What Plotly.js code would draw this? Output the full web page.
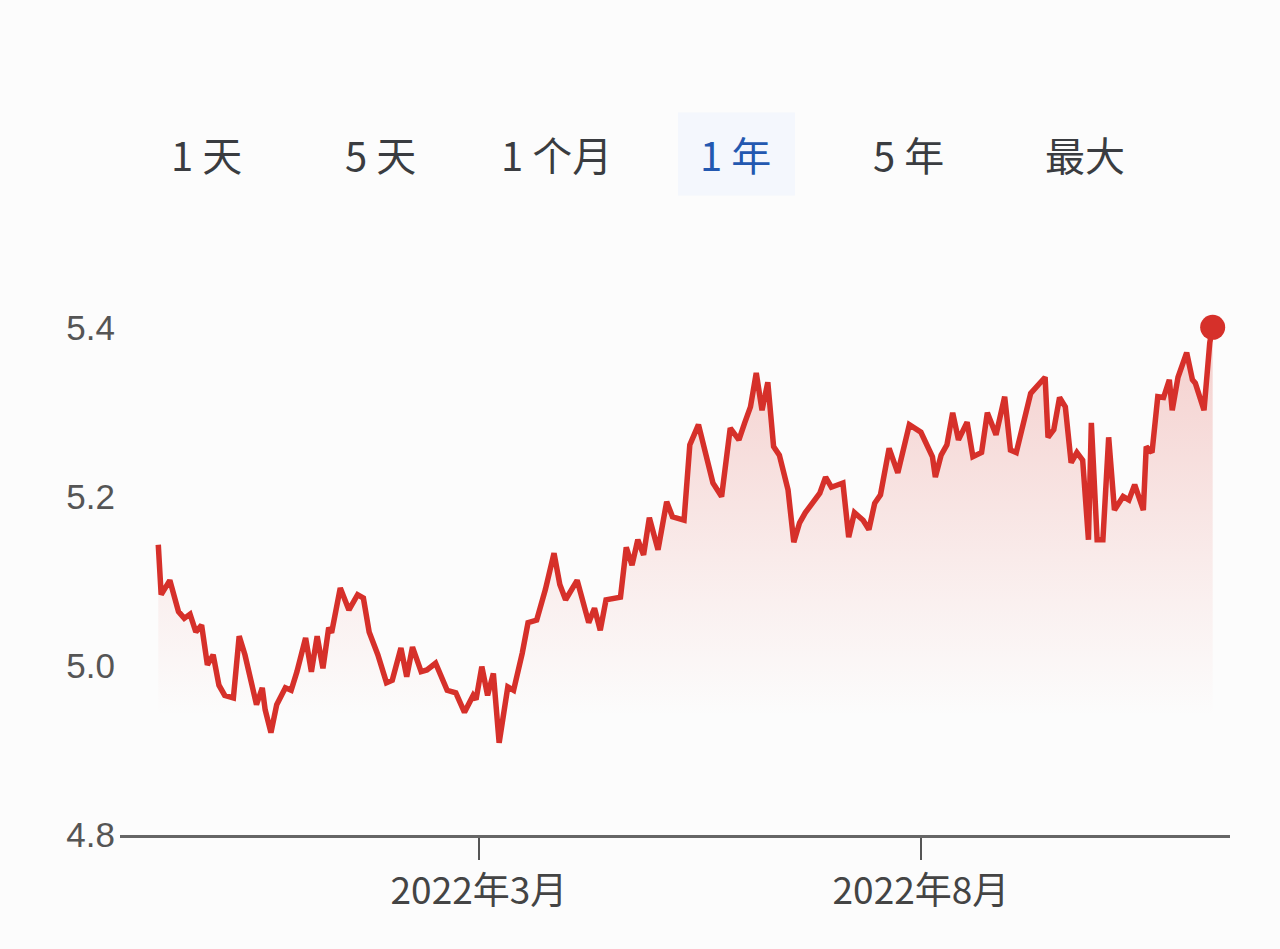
<!DOCTYPE html>
<html>
<head>
<meta charset="utf-8">
<script src="https://cdn.plot.ly/plotly-3.0.1.min.js"></script>
<style>
  html, body { margin: 0; padding: 0; background: #fcfcfc; }
  #chart { width: 1280px; height: 949px; }
</style>
</head>
<body>
<div id="chart"></div>
<script>
const dates = ['2021-11-10','2021-11-11','2021-11-14','2021-11-17','2021-11-19','2021-11-21','2021-11-23','2021-11-25','2021-11-27','2021-11-29',
'2021-12-01','2021-12-03','2021-12-06','2021-12-08','2021-12-10','2021-12-12','2021-12-14','2021-12-16','2021-12-17','2021-12-19','2021-12-21','2021-12-24','2021-12-26','2021-12-28','2021-12-31',
'2022-01-02','2022-01-04','2022-01-06','2022-01-08','2022-01-09','2022-01-12','2022-01-15','2022-01-18','2022-01-20','2022-01-22','2022-01-25','2022-01-28','2022-01-30',
'2022-02-02','2022-02-04','2022-02-06','2022-02-09','2022-02-11','2022-02-14','2022-02-18','2022-02-21','2022-02-24','2022-02-27','2022-02-28',
'2022-03-02','2022-03-04','2022-03-06','2022-03-08','2022-03-11','2022-03-13','2022-03-16','2022-03-18','2022-03-21','2022-03-24','2022-03-27','2022-03-29','2022-03-31',
'2022-04-02','2022-04-04','2022-04-08','2022-04-10','2022-04-12','2022-04-14','2022-04-19','2022-04-21','2022-04-23','2022-04-25','2022-04-27','2022-04-29',
'2022-05-02','2022-05-05','2022-05-07','2022-05-11','2022-05-13','2022-05-16','2022-05-21','2022-05-24','2022-05-27','2022-05-30',
'2022-06-01','2022-06-03','2022-06-05','2022-06-07','2022-06-09','2022-06-11','2022-06-13','2022-06-16','2022-06-18','2022-06-20','2022-06-22','2022-06-25','2022-06-27','2022-06-29',
'2022-07-01','2022-07-05','2022-07-07','2022-07-09','2022-07-12','2022-07-14','2022-07-16','2022-07-18','2022-07-21','2022-07-24','2022-07-28',
'2022-08-01','2022-08-05','2022-08-06','2022-08-08','2022-08-10','2022-08-12','2022-08-14','2022-08-17','2022-08-19','2022-08-22','2022-08-24','2022-08-27','2022-08-30',
'2022-09-01','2022-09-03','2022-09-05','2022-09-08','2022-09-13','2022-09-14','2022-09-16','2022-09-18','2022-09-20','2022-09-22','2022-09-24','2022-09-26','2022-09-28','2022-09-29',
'2022-10-01','2022-10-03','2022-10-05','2022-10-07','2022-10-10','2022-10-12','2022-10-14','2022-10-17','2022-10-18','2022-10-20','2022-10-22','2022-10-24','2022-10-26','2022-10-27','2022-10-29',
'2022-11-01','2022-11-03','2022-11-04','2022-11-07','2022-11-09','2022-11-10'];

const values = [5.143,5.084,5.101,5.064,5.056,5.061,5.040,5.048,5.001,5.013,
4.977,4.965,4.962,5.035,5.013,4.983,4.954,4.974,4.948,4.921,
4.954,4.974,4.971,4.993,5.033,4.993,5.035,4.997,5.045,5.039,
5.092,5.066,5.084,5.080,5.040,5.013,4.980,4.983,5.021,4.987,
5.022,4.993,4.995,5.003,4.971,4.968,4.945,4.965,4.960,4.999,
4.965,4.991,4.909,4.975,4.971,5.015,5.051,5.054,5.090,5.133,
5.096,5.078,5.090,5.101,5.051,5.068,5.042,5.078,5.081,5.140,
5.119,5.149,5.131,5.175,5.137,5.194,5.176,5.172,5.261,5.285,
5.216,5.200,5.281,5.267,5.287,5.306,5.346,5.302,5.335,5.259,
5.249,5.208,5.146,5.169,5.181,5.196,5.204,5.223,5.211,5.216,
5.152,5.181,5.172,5.161,5.192,5.202,5.257,5.228,5.285,5.276,
5.247,5.223,5.249,5.261,5.299,5.267,5.288,5.247,5.252,5.299,
5.273,5.318,5.255,5.252,5.279,5.322,5.341,5.270,5.279,5.317,
5.306,5.240,5.252,5.243,5.149,5.287,5.149,5.149,5.270,5.184,
5.200,5.196,5.214,5.184,5.259,5.252,5.318,5.317,5.338,5.302,
5.341,5.370,5.338,5.334,5.302,5.382,5.400];

const rangeButtons = ['1 天', '5 天', '1 个月', '1 年', '5 年', '最大'];
const activeButton = '1 年';
const xTickVals = ['2022-03-01', '2022-08-01'];
const xTickText = ['2022年3月', '2022年8月'];
const yTickVals = [4.8, 5.0, 5.2, 5.4];
const yTickText = ['4.8', '5.0', '5.2', '5.4'];

const RED = '#d6302a';
const CJK = '"Noto Sans CJK SC", "Noto Sans", Roboto, sans-serif';

const traces = [
  {
    x: dates, y: values, type: 'scatter', mode: 'lines',
    line: { color: RED, width: 5.5, shape: 'linear' },
    fill: 'tozeroy',
    fillgradient: {
      type: 'vertical', start: 4.94, stop: 5.4,
      colorscale: [[0, 'rgba(217,48,37,0)'], [0.3, 'rgba(217,48,37,0.06)'], [1, 'rgba(217,48,37,0.22)']]
    },
    hoverinfo: 'skip', showlegend: false
  },
  {
    x: [dates[dates.length - 1]], y: [values[values.length - 1]],
    type: 'scatter', mode: 'markers',
    marker: { color: RED, size: 25 },
    cliponaxis: false, hoverinfo: 'skip', showlegend: false
  }
];

const btnX = [0.0775, 0.2351, 0.3928, 0.5541, 0.7108, 0.8694];
const annotations = rangeButtons.map((t, i) => ({
  text: t, xref: 'paper', yref: 'paper', x: btnX[i], y: 1.239,
  xanchor: 'center', yanchor: 'middle', showarrow: false,
  font: { family: CJK, size: 40, color: t === activeButton ? '#2358b0' : '#3a3c40' }
}));

const layout = {
  width: 1280, height: 949,
  paper_bgcolor: '#fcfcfc', plot_bgcolor: '#fcfcfc',
  margin: { l: 120, r: 50, t: 285, b: 114 },
  showlegend: false,
  xaxis: {
    type: 'date',
    range: ['2021-10-27 18:00', '2022-11-16'],
    tickvals: xTickVals, ticktext: xTickText,
    ticks: 'outside', ticklen: 22, tickwidth: 2, tickcolor: '#555',
    showline: true, linecolor: '#666', linewidth: 2.5,
    showgrid: false, zeroline: false,
    tickfont: { family: CJK, size: 37, color: '#444' },
    fixedrange: true
  },
  yaxis: {
    range: [4.8, 5.45],
    tickvals: yTickVals, ticktext: yTickText,
    ticks: '', showline: false, showgrid: false, zeroline: false,
    tickfont: { family: 'Liberation Sans, Arial, sans-serif', size: 35, color: '#555' },
    ticklabelstandoff: 4,
    fixedrange: true
  },
  shapes: [{
    type: 'rect', xref: 'paper', yref: 'paper',
    x0: 0.5027, x1: 0.6081, y0: 1.1628, y1: 1.3136,
    fillcolor: 'rgba(232,240,254,0.4)', line: { width: 0 }, layer: 'below'
  }],
  annotations: annotations
};

Plotly.newPlot('chart', traces, layout, { displayModeBar: false, staticPlot: true });
</script>
</body>
</html>
